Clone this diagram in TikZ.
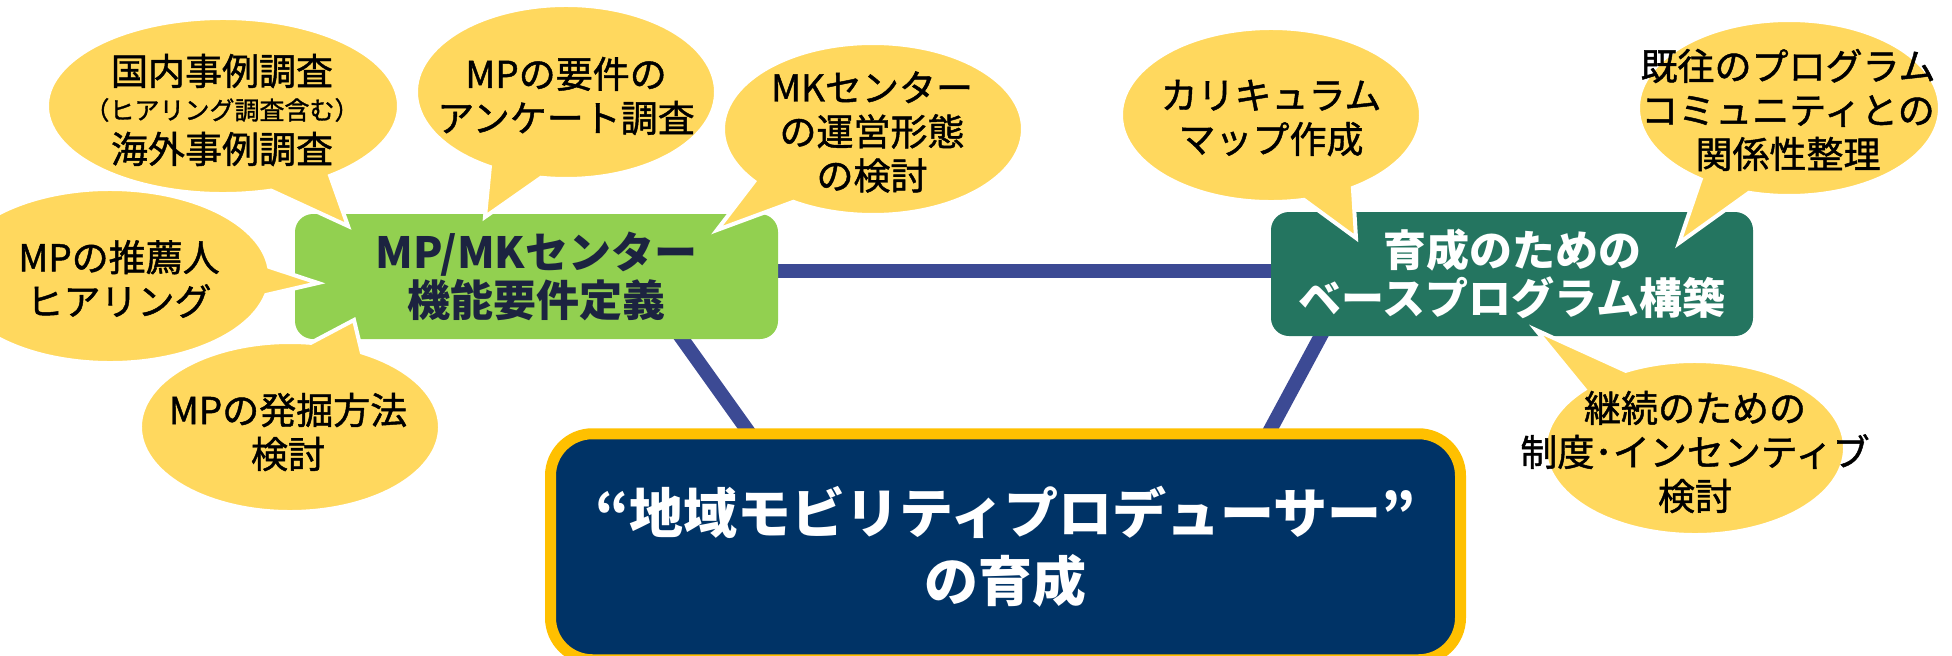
\documentclass[tikz,border=0pt]{standalone}
\usepackage{fontspec}
\newfontfamily\jpfont{Noto Sans CJK JP}
\newfontfamily\jpmed{Noto Sans CJK JP}[FakeBold=1.2]
\usetikzlibrary{calc,backgrounds}
\definecolor{bubY}{HTML}{FFD85E}
\definecolor{boxG}{HTML}{92D050}
\definecolor{boxDG}{HTML}{247560}
\definecolor{goalN}{HTML}{003366}
\definecolor{goalY}{HTML}{FFC000}
\definecolor{lineC}{HTML}{3C4A94}
\definecolor{txtN}{HTML}{1C2340}
\tikzset{
  bub/.style={fill=bubY, draw=white, line width=4pt},
  btxt/.style={font=\jpmed\fontsize{37}{44}\selectfont, align=center, text=black, inner sep=0pt},
  conn/.style={draw=lineC, line width=14pt},
  stagebox/.style={rounded corners=18pt, minimum width=483pt, minimum height=125pt, inner sep=0pt, align=center, font=\jpfont\bfseries\fontsize{43}{48}\selectfont},
  goalbox/.style={fill=goalN, draw=goalY, line width=11pt, rounded corners=42pt, minimum width=910pt, minimum height=226pt, inner sep=0pt, align=center, text=white, font=\jpfont\bfseries\fontsize{54}{68}\selectfont},
}
\newcommand\bubshape[7]{\path[bub] ($(#1,#2)+(#5:#3 and #4)$) arc[start angle=#5, end angle=#6, x radius=#3, y radius=#4] -- #7 -- cycle;}
\begin{document}
\begin{tikzpicture}[x=1pt,y=-1pt]
\useasboundingbox (0,0) rectangle (1952,656);
\clip (0,0) rectangle (1952,656);
\node[stagebox, fill=boxG, text=txtN] (mp) at (536.5,276.5) {MP/MKセンター\\機能要件定義};
\node[stagebox, fill=boxDG, text=white, minimum width=482pt, minimum height=124pt] (dg) at (1512,274) {育成のための\\ベースプログラム構築};
\node[goalbox] (goal) at (1005.5,546.75) {“地域モビリティプロデューサー”\\の育成};
\begin{scope}[on background layer]
\draw[conn] ([yshift=6pt]mp.east) -- ([yshift=6pt]mp.east -| dg.west);
\draw[conn] ([xshift=118pt,yshift=39pt]mp.south) -- ([xshift=-229.5pt,yshift=-42pt]goal.north);
\draw[conn] ([xshift=-172pt,yshift=36pt]dg.south) -- ([xshift=243pt,yshift=-42pt]goal.north);
\end{scope}
% bubbles
\bubshape{223}{106}{176}{88}{74.1}{412.5}{(348,226)}
\node[btxt] (a1) at (222,71) {国内事例調査};
\node[btxt, font=\jpmed\fontsize{25}{30}\selectfont] (a2) at (222,110) {（ヒアリング調査含む）};
\node[btxt] (a3) at (222,149) {海外事例調査};
\bubshape{566}{92}{150}{87}{120.5}{459.6}{(485,217)}
\node[btxt] (b) at (566,96) {MPの要件の\\アンケート調査};
\bubshape{873}{129}{150}{86}{142.4}{482.1}{(717,230)}
\node[btxt] (c) at (872,132) {MKセンター\\の運営形態\\の検討};
\bubshape{110}{276}{160}{87}{12.6}{354}{(318,283)}
\node[btxt] (d) at (119,279) {MPの推薦人\\ヒアリング};
\bubshape{290}{427}{150}{85}{-61.4}{278}{(354,320)}
\node[btxt] (e) at (288,432) {MPの発掘方法\\検討};
\bubshape{1271}{115}{150}{87}{77.3}{416.9}{(1356,238)}
\node[btxt] (f) at (1271,118) {カリキュラム\\マップ作成};
\bubshape{1789}{108}{151}{88}{125.8}{465.4}{(1679,243)}
\node[btxt] (g) at (1788,110) {既往のプログラム\\コミュニティとの\\関係性整理};
\bubshape{1695}{448}{150}{87}{242.5}{582.5}{(1536,330)}
\node[btxt] (h) at (1695,452) {継続のための\\制度･インセンティブ\\検討};
\end{tikzpicture}
\end{document}
